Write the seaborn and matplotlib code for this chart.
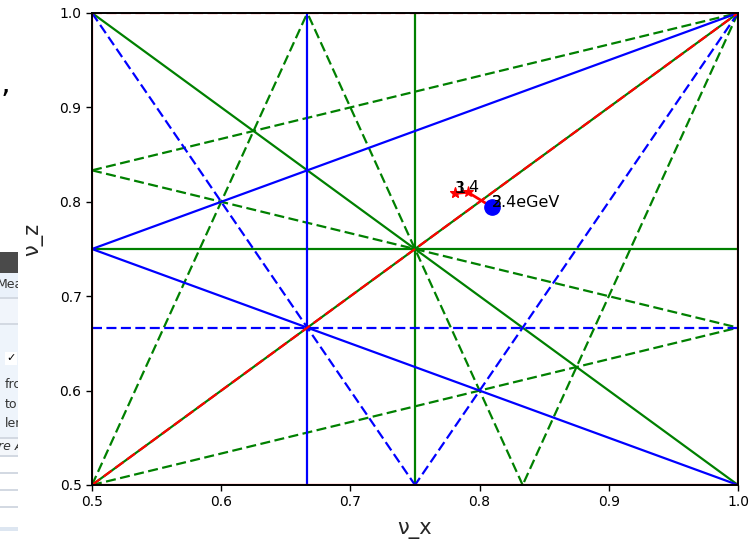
import numpy as np
import pandas as pd
import matplotlib
matplotlib.use("Agg")
import matplotlib.pyplot as plt
from matplotlib.patches import Rectangle
import seaborn as sns

# Tune window
qx_range = [0.5, 1.0]
qz_range = [0.5, 1.0]

# Resonance lines m*nu_x + n*nu_z = p up to fourth order
res_m = [1, 0, 2, 0, 1, 3, 0, 2, 2, 1, 1, 4, 0, 2, 2, 3, 3, 3, 1, 1, 1]
res_n = [0, 1, 0, 2, -1, 0, 3, 1, -1, 2, -2, 0, 4, 2, -2, 1, -1, -1, 3, -3, -3]
res_p = [1, 1, 1, 1, 0, 2, 2, 2, 1, 2, -1, 3, 3, 3, 0, 3, 1, 2, 3, -1, -2]
res_order = [1, 1, 2, 2, 2, 3, 3, 3, 3, 3, 3, 4, 4, 4, 4, 4, 4, 4, 4, 4, 4]

order_colors = {1: "red", 2: "red", 3: "blue", 4: "green"}

# Measured working points
pt_label = ["1", "3", "4", "2"]
pt_qx = [0.781, 0.781, 0.791, 0.8096]
pt_qz = [0.809, 0.809, 0.810, 0.7945]

ref_label = "3.4eGeV"
ref_qx = [0.8096]
ref_qz = [0.7945]

sns.set_style("ticks")
plt.rcParams["font.family"] = ["DejaVu Sans"]

fig = plt.figure(figsize=(7.52, 5.41), dpi=100)
ax = fig.add_axes([92 / 752, 1 - 485 / 541, (738 - 92) / 752, (485 - 13) / 541])


def clip_line(m, n, p):
    """Endpoints of m*x + n*z = p inside the tune window."""
    x0, x1 = qx_range
    z0, z1 = qz_range
    pts = []
    if n != 0:
        for x in (x0, x1):
            z = (p - m * x) / n
            if z0 - 1e-9 <= z <= z1 + 1e-9:
                pts.append((x, z))
    if m != 0:
        for z in (z0, z1):
            x = (p - n * z) / m
            if x0 - 1e-9 <= x <= x1 + 1e-9:
                pts.append((x, z))
    uniq = []
    for q in pts:
        if all(abs(q[0] - u[0]) > 1e-9 or abs(q[1] - u[1]) > 1e-9 for u in uniq):
            uniq.append(q)
    return uniq[:2]


# Higher orders underneath, lower orders on top; odd n -> dashed
for order in (4, 3, 2, 1):
    for m, n, p, o in zip(res_m, res_n, res_p, res_order):
        if o != order:
            continue
        seg = clip_line(m, n, p)
        if len(seg) < 2:
            continue
        df = pd.DataFrame({"qx": [seg[0][0], seg[1][0]], "qz": [seg[0][1], seg[1][1]]})
        sns.lineplot(data=df, x="qx", y="qz", ax=ax, color=order_colors[o],
                     lw=1.6, sort=False, estimator=None)
        if n % 2 != 0:
            ax.lines[-1].set_dashes((4.5, 2.0))

# Tune track
df_pts = pd.DataFrame({"qx": pt_qx, "qz": pt_qz})
sns.lineplot(data=df_pts, x="qx", y="qz", ax=ax, color="red", lw=2.0,
             sort=False, estimator=None, marker="*", markersize=8,
             markeredgecolor="red", zorder=4)
for lab, x, z in zip(pt_label, pt_qx, pt_qz):
    ax.text(x, z, lab, fontsize=11.5, color="black", zorder=6)

ax.plot(ref_qx, ref_qz, "o", color="blue", markersize=11, zorder=5)
ax.text(ref_qx[0], ref_qz[0], ref_label, fontsize=11.5, color="black", zorder=6)

ax.set_xlim(qx_range)
ax.set_ylim(qz_range)
ax.set_xticks([0.5, 0.6, 0.7, 0.8, 0.9, 1.0])
ax.set_yticks([0.5, 0.6, 0.7, 0.8, 0.9, 1.0])
ax.tick_params(labelsize=10, length=4, width=1, color="black", labelcolor="black")
for sp in ax.spines.values():
    sp.set_color("black")
    sp.set_linewidth(1.4)
    sp.set_visible(True)
ax.set_xlabel("ν_x", fontsize=15)
ax.set_ylabel("ν_z", fontsize=15)
ax.xaxis.set_label_coords(0.5, -0.072)
ax.yaxis.set_label_coords(-0.076, 0.52)


# Neighbouring window panel at the left edge
def fig_rect(x, y, w, h, color, z=1):
    r = Rectangle((x / 752, 1 - (y + h) / 541), w / 752, h / 541, transform=fig.transFigure,
                  facecolor=color, edgecolor="none", zorder=z)
    fig.add_artist(r)


def fig_text(x, y, s, **kw):
    return fig.text(x / 752, 1 - y / 541, s, va="center", ha="left", zorder=2, **kw)


panel_w = 18
fig_rect(0, 252, panel_w, 21, "#4a4a4a")
fig_rect(0, 273, panel_w, 24, "#eaf1fa")
fig_rect(0, 297, panel_w, 2, "#d3d9e2")
fig_rect(0, 299, panel_w, 24, "#f1f5fb")
fig_rect(0, 323, panel_w, 2, "#d3d9e2")
fig_rect(0, 325, panel_w, 112, "#eef4fb")
fig_rect(0, 437, panel_w, 2, "#d3d9e2")
fig_rect(0, 439, panel_w, 16, "#f4f7fb")
fig_rect(0, 455, panel_w, 2, "#d3d9e2")
fig_rect(0, 472, panel_w, 2, "#d3d9e2")
fig_rect(0, 489, panel_w, 2, "#d3d9e2")
fig_rect(0, 506, panel_w, 2, "#d3d9e2")
fig_rect(0, 527, panel_w, 4, "#dde6f1")
fig_rect(5, 352, 12, 13, "white")
fig_text(6, 358, "✓", fontsize=8, color="black")
fig_text(-3, 284, "Mea", fontsize=9, color="#333333")
fig_text(5, 384, "from", fontsize=9, color="#333333")
fig_text(5, 404, "to", fontsize=9, color="#333333")
fig_text(5, 423, "length", fontsize=9, color="#333333")
fig_text(-2, 447, "re A", fontsize=9, color="#333333", style="italic")
# cover the part of the panel that runs past its edge
fig_rect(panel_w, 274, 32, 200, "white", z=3)
fig_text(1, 84, ",", fontsize=22, color="black")

fig.savefig("out.png", dpi=100)
